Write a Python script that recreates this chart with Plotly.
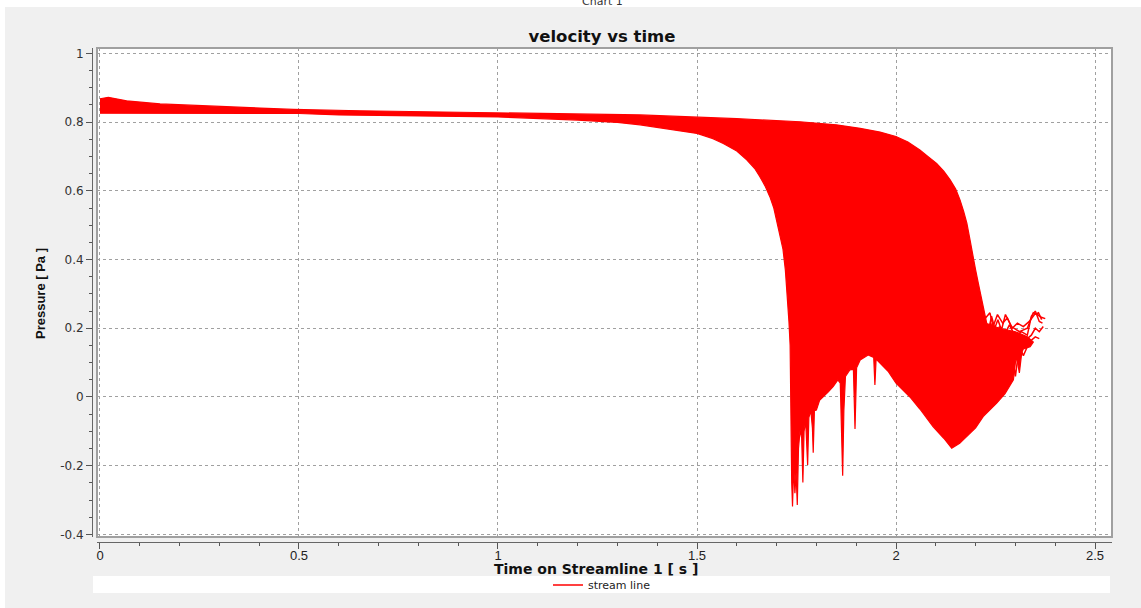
import plotly.graph_objects as go

# ---- data ----
# upper envelope of the bundle of streamlines (time [s], pressure [Pa])
upper_t = [0.0, 0.021, 0.067, 0.151, 0.318, 0.486, 0.653, 1.0, 1.357, 1.6, 1.759, 1.85, 1.91, 1.96, 2.0,
           2.03, 2.06, 2.08, 2.102, 2.12, 2.136, 2.15, 2.161, 2.17, 2.178, 2.186, 2.193, 2.2, 2.207,
           2.215, 2.222, 2.228, 2.26, 2.30, 2.33, 2.345]
upper_p = [0.868, 0.872, 0.862, 0.853, 0.845, 0.837, 0.833, 0.827, 0.821, 0.81, 0.801, 0.792, 0.782, 0.771, 0.758,
           0.742, 0.719, 0.70, 0.68, 0.657, 0.632, 0.605, 0.573, 0.54, 0.506, 0.457, 0.41, 0.37, 0.33,
           0.282, 0.24, 0.214, 0.20, 0.19, 0.175, 0.16]

# lower envelope of the bundle (with the downward spikes)
lower_t = [0.0, 0.5, 0.6, 1.0, 1.2, 1.3, 1.357, 1.42, 1.5, 1.54, 1.566, 1.6, 1.625, 1.645, 1.658, 1.672,
           1.683, 1.693, 1.70, 1.708, 1.716, 1.722, 1.727, 1.731, 1.734,
           1.736, 1.738, 1.740, 1.743, 1.746, 1.749, 1.752, 1.755, 1.759, 1.763, 1.766, 1.769, 1.773,
           1.776, 1.778, 1.781, 1.786, 1.790, 1.792, 1.795, 1.80, 1.808, 1.817, 1.83, 1.842, 1.854,
           1.860, 1.863, 1.866, 1.869, 1.873, 1.884, 1.893, 1.897, 1.901, 1.91, 1.93, 1.944, 1.947,
           1.950, 1.96, 1.98, 2.0, 2.035, 2.06, 2.093, 2.12, 2.14, 2.16, 2.178, 2.20, 2.219, 2.235, 2.253,
           2.274, 2.29, 2.295, 2.30, 2.303, 2.31, 2.316, 2.32, 2.337]
lower_p = [0.826, 0.825, 0.821, 0.815, 0.806, 0.799, 0.792, 0.782, 0.767, 0.752, 0.738, 0.716, 0.69, 0.665, 0.641, 0.612,
           0.583, 0.55, 0.515, 0.475, 0.43, 0.37, 0.30, 0.22, 0.15,
           -0.05, -0.25, -0.319, -0.20, -0.28, -0.22, -0.314, -0.15, -0.096, -0.12, -0.249, -0.10, -0.07,
           -0.12, -0.198, -0.06, -0.04, -0.09, -0.162, -0.04, -0.038, -0.01, 0.0, 0.015, 0.03, 0.05,
           0.04, -0.05, -0.229, -0.04, 0.06, 0.079, 0.08, -0.093, 0.085, 0.108, 0.122, 0.115, 0.035,
           0.11, 0.099, 0.075, 0.04, 0.0, -0.035, -0.086, -0.12, -0.149, -0.135, -0.115, -0.09, -0.057, -0.04, -0.018,
           0.01, 0.04, 0.05, 0.10, 0.117, 0.07, 0.13, 0.14, 0.146]

# individual wiggly streamline tails at the end of the bundle
tail1_t = [2.222, 2.232, 2.240, 2.248, 2.256, 2.265, 2.275, 2.29, 2.31, 2.33, 2.345, 2.355, 2.365, 2.375]
tail1_p = [0.21, 0.19, 0.235, 0.20, 0.225, 0.195, 0.24, 0.205, 0.19, 0.20, 0.245, 0.24, 0.232, 0.228]
tail2_t = [2.228, 2.238, 2.25, 2.26, 2.272, 2.285, 2.30, 2.315, 2.33, 2.34, 2.35, 2.36, 2.368]
tail2_p = [0.18, 0.215, 0.17, 0.205, 0.18, 0.21, 0.175, 0.19, 0.18, 0.235, 0.25, 0.22, 0.215]
tail3_t = [2.235, 2.25, 2.265, 2.28, 2.295, 2.31, 2.325, 2.34, 2.35, 2.36, 2.37]
tail3_p = [0.16, 0.19, 0.17, 0.185, 0.16, 0.175, 0.165, 0.18, 0.2, 0.19, 0.205]
tail4_t = [2.225, 2.236, 2.244, 2.255, 2.268, 2.28, 2.292, 2.305, 2.32, 2.335, 2.348, 2.358, 2.366]
tail4_p = [0.23, 0.245, 0.205, 0.24, 0.215, 0.23, 0.20, 0.215, 0.205, 0.22, 0.24, 0.245, 0.225]
tail5_t = [2.245, 2.26, 2.27, 2.28, 2.29, 2.30, 2.31, 2.32, 2.335, 2.35, 2.36]
tail5_p = [0.15, 0.13, 0.16, 0.10, 0.14, 0.06, 0.15, 0.12, 0.16, 0.175, 0.17]

x_tick_vals = [0, 0.5, 1, 1.5, 2, 2.5]
x_tick_text = ["0", "0.5", "1", "1.5", "2", "2.5"]
y_tick_vals = [-0.4, -0.2, 0, 0.2, 0.4, 0.6, 0.8, 1]
y_tick_text = ["-0.4", "-0.2", "0", "0.2", "0.4", "0.6", "0.8", "1"]

RED = "#ff0000"

# ---- layout geometry (pixels) ----
W, H = 1141, 608
ML, MR, MT, MB = 92, 29, 48, 66
PW, PH = W - ML - MR, H - MT - MB
gap_x = 5 / PW
gap_y = 5 / PH


def px_x(px):
    return (px - ML) / PW


def px_y(py):
    return (H - MB - py) / PH


fig = go.Figure()

# solid bundle of streamlines
fig.add_trace(go.Scatter(
    x=upper_t + lower_t[::-1], y=upper_p + lower_p[::-1],
    mode="lines", fill="toself", fillcolor=RED,
    line=dict(color=RED, width=1.2), showlegend=False, hoverinfo="skip",
))
tails = [(tail1_t, tail1_p), (tail2_t, tail2_p), (tail3_t, tail3_p), (tail4_t, tail4_p), (tail5_t, tail5_p)]
for i, (tt, pp) in enumerate(tails):
    fig.add_trace(go.Scatter(
        x=tt, y=pp, mode="lines", line=dict(color=RED, width=1.5),
        name="stream line", legendgroup="s", showlegend=(i == 0),
    ))

grid = dict(showgrid=True, gridcolor="#a0a0a0", griddash="dot", gridwidth=1, zeroline=False)
tickstyle = dict(ticks="outside", ticklen=6, tickcolor="#555", tickwidth=1,
                 showline=True, linecolor="#666", linewidth=1)

fig.update_layout(
    width=W, height=H,
    margin=dict(l=ML, r=MR, t=MT, b=MB, pad=0, autoexpand=False),
    paper_bgcolor="#f0f0f0", plot_bgcolor="white",
    title=dict(text="<b>velocity vs time</b>", x=0.5, xref="paper", xanchor="center",
               y=1 - 36 / H, yanchor="middle",
               font=dict(family="DejaVu Sans", size=16.5, color="#111")),
    xaxis=dict(domain=[gap_x, 1], anchor="free", position=0,
               range=[-0.0075, 2.5427], tickmode="array", tickvals=x_tick_vals, ticktext=x_tick_text,
               minor=dict(tickmode="linear", tick0=0, dtick=0.1, ticks="outside", ticklen=3,
                          tickcolor="#555", showgrid=False),
               ticklabelstandoff=-5,
               tickfont=dict(family="Liberation Sans Narrow, Liberation Sans, sans-serif", size=13, color="#222"),
               **grid, **tickstyle),
    yaxis=dict(domain=[gap_y, 1], anchor="free", position=0,
               range=[-0.4075, 1.0157], tickmode="array", tickvals=y_tick_vals, ticktext=y_tick_text,
               minor=dict(tickmode="linear", tick0=0, dtick=0.05, ticks="outside", ticklen=3,
                          tickcolor="#555", showgrid=False),
               tickfont=dict(family="DejaVu Sans", size=12, color="#333"),
               **grid, **tickstyle),
    legend=dict(orientation="h", x=0.5, xanchor="center", xref="paper",
                yref="container", y=(H - 585) / H, yanchor="middle",
                bgcolor="rgba(0,0,0,0)",
                font=dict(family="DejaVu Sans", size=11, color="#222"),
                itemwidth=30),
    showlegend=True,
    shapes=[
        # plot frame
        dict(type="rect", xref="paper", yref="paper", x0=gap_x, x1=1, y0=gap_y, y1=1,
             line=dict(color="#a0a0a0", width=2), layer="above"),
        # legend band
        dict(type="rect", xref="paper", yref="paper",
             x0=px_x(93), x1=px_x(1110), y0=px_y(593), y1=px_y(576),
             line=dict(width=0), fillcolor="white", layer="below"),
        # white strips at top and left edge of the picture
        dict(type="rect", xref="paper", yref="paper",
             x0=px_x(0), x1=px_x(W), y0=px_y(7), y1=px_y(0),
             line=dict(width=0), fillcolor="white", layer="below"),
        dict(type="rect", xref="paper", yref="paper",
             x0=px_x(0), x1=px_x(5), y0=px_y(H), y1=px_y(0),
             line=dict(width=0), fillcolor="white", layer="below"),
    ],
    annotations=[
        dict(text="Chart 1", xref="paper", yref="paper", x=0.5, y=px_y(1),
             xanchor="center", yanchor="middle", showarrow=False,
             font=dict(family="DejaVu Sans", size=11, color="#333")),
        dict(text="<b>Time on Streamline 1 [ s ]</b>", xref="paper", yref="paper",
             x=px_x(596), y=px_y(569), xanchor="center", yanchor="middle", showarrow=False,
             font=dict(family="DejaVu Sans", size=14, color="#111")),
        dict(text="<b>Pressure [ Pa ]</b>", xref="paper", yref="paper", textangle=-90,
             x=px_x(40), y=px_y(294), xanchor="center", yanchor="middle", showarrow=False,
             font=dict(family="Liberation Sans", size=13, color="#111")),
    ],
)

fig.write_html("out.html")
